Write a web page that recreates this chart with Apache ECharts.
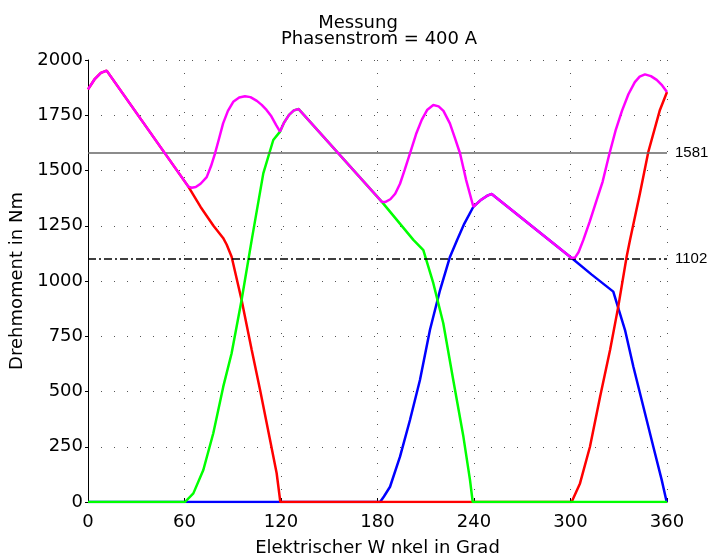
<!DOCTYPE html>
<html><head><meta charset="utf-8">
<script src="https://cdn.jsdelivr.net/npm/echarts@6/dist/echarts.min.js"></script>
<style>html,body{margin:0;padding:0;background:#fff}#c{width:715px;height:554px}</style>
</head><body><div id="c"></div>
<script>
const titleLines = ['Messung', 'Phasenstrom = 400 A'];
const xName = 'Elektrischer W nkel in Grad';
const yName = 'Drehmoment in Nm';
const xRange = [0, 360, 60];
const yRange = [0, 2000, 250];
const refValues = [1581, 1102];

// [Winkel in Grad, Drehmoment in Nm]
const phaseRed = [[0,1867],[4,1912],[8,1942],[11.6,1952],[62.4,1427],[70,1335],[78,1250],[84,1195],[86.2,1165],[89.3,1110],[95.5,914],[101.8,688],[107,507],[113.2,281],[117.3,130],[119.6,0],
  [300.7,0],[305.9,84],[312.1,250],[318.4,476],[324.6,688],[329.7,884],[334.9,1110],[337,1186],[343.2,1397],[348.4,1585],[355.6,1774],[360,1855]];
const phaseGreen = [[0,0],[60.3,0],[65.5,39],[71.7,145],[77.9,311],[84.1,522],[89.3,673],[95.5,914],[101.8,1186],[109,1487],[115.2,1638],[119.4,1676],
  [122,1718],[125,1752],[128,1772],[131,1778],[182.6,1359],[202.3,1186],[208.5,1140],[214.7,990],[220.9,809],[227.1,552],[233.4,296],[237.5,100],[239.2,0],[360,0]];
const phaseBlue = [[0,0],[181.6,0],[184,25],[187.8,69],[194,205],[200.2,371],[206.4,552],[212.6,778],[218.9,959],[225.1,1110],[229.5,1186],[234,1260],[239.6,1336],
  [244,1365],[248,1385],[251,1394],[300.7,1104],[313,1030],[326.6,952],[330,870],[333.9,778],[339.1,612],[345.3,431],[351.5,250],[356.7,100],[359.8,0],[360,0]];
const total = [[0,1867],[4,1912],[8,1942],[11.6,1952],[62.4,1427],[64.5,1422],[67,1425],[70,1440],[73.8,1470],[76.5,1520],[79,1578],[81.5,1645],[84,1713],[87,1770],[90.3,1811],[94,1830],[97.6,1836],[101,1832],[105,1815],[108,1797],[111,1774],[114,1745],[117,1705],[119.4,1676],
  [122,1718],[125,1752],[128,1772],[131,1778],[182.6,1359],[185,1358],[188,1370],[191,1395],[194,1440],[197,1505],[200.2,1578],[204,1665],[207.5,1729],[211,1775],[214.7,1796],[218,1790],[221,1770],[225,1713],[228,1650],[231.3,1578],[235,1460],[239.6,1336],
  [244,1365],[248,1385],[251,1394],[300.7,1104],[302.8,1106],[305,1130],[308,1186],[312,1270],[316,1360],[320,1450],[324,1570],[328,1680],[332,1770],[336,1845],[340,1900],[343,1925],[346.3,1935],[350,1927],[353.6,1910],[357,1885],[360,1855]];

const FONT = 'DejaVu Sans';
const chart = echarts.init(document.getElementById('c'), null, {renderer: 'canvas'});
const lineSeries = (data, color, z) => ({
  type: 'line', data: data, showSymbol: false, symbol: 'none', z: z,
  lineStyle: {color: color, width: 2.5}, itemStyle: {color: color}, silent: true
});
const blue = lineSeries(phaseBlue, '#0000ff', 2);
blue.markLine = {
  silent: true, symbol: 'none', animation: false,
  data: [
    {yAxis: refValues[0], lineStyle: {color: '#666666', width: 1.5, type: 'solid'},
     label: {show: true, position: 'end', distance: 8, formatter: String(refValues[0]), color: '#000', fontFamily: 'Liberation Sans', fontSize: 15}},
    {yAxis: refValues[1], lineStyle: {color: '#000000', width: 1.5, type: [8, 3, 2, 3]},
     label: {show: true, position: 'end', distance: 8, formatter: String(refValues[1]), color: '#000', fontFamily: 'Liberation Sans', fontSize: 15}}
  ]
};
chart.setOption({
  animation: false,
  backgroundColor: '#ffffff',
  title: [
    {text: titleLines[0], left: 353, top: 9, textAlign: 'center', textStyle: {fontFamily: FONT, fontSize: 18, fontWeight: 'normal', color: '#000'}},
    {text: titleLines[1], left: 374, top: 25, textAlign: 'center', textStyle: {fontFamily: FONT, fontSize: 18, fontWeight: 'normal', color: '#000'}}
  ],
  grid: {left: 88, right: 48, top: 60, bottom: 52, containLabel: false, outerBoundsMode: 'none'},
  xAxis: {
    type: 'value', min: xRange[0], max: xRange[1], interval: xRange[2],
    name: xName, nameLocation: 'middle', nameGap: 37,
    nameTextStyle: {fontFamily: FONT, fontSize: 18, color: '#000'},
    axisLine: {show: true, lineStyle: {color: '#000', width: 1}},
    axisTick: {show: true, inside: true, length: 4, lineStyle: {color: '#000'}},
    axisLabel: {fontFamily: FONT, fontSize: 18, color: '#000', margin: 11, formatter: v => String(v)},
    splitLine: {show: true, lineStyle: {color: '#555', width: 1, type: [1, 12]}}
  },
  yAxis: {
    type: 'value', min: yRange[0], max: yRange[1], interval: yRange[2],
    name: yName, nameLocation: 'middle', nameGap: 47, nameRotate: 90,
    nameTextStyle: {fontFamily: FONT, fontSize: 18, color: '#000'},
    axisLine: {show: true, lineStyle: {color: '#000', width: 1}},
    axisTick: {show: true, inside: false, length: 3, lineStyle: {color: '#000'}},
    axisLabel: {fontFamily: FONT, fontSize: 18, color: '#000', margin: 5, formatter: v => String(v)},
    splitLine: {show: true, lineStyle: {color: '#555', width: 1, type: [1, 12]}}
  },
  series: [
    blue,
    lineSeries(phaseRed, '#ff0000', 3),
    lineSeries(phaseGreen, '#00ff00', 4),
    lineSeries(total, '#ff00ff', 5)
  ]
});
</script></body></html>
